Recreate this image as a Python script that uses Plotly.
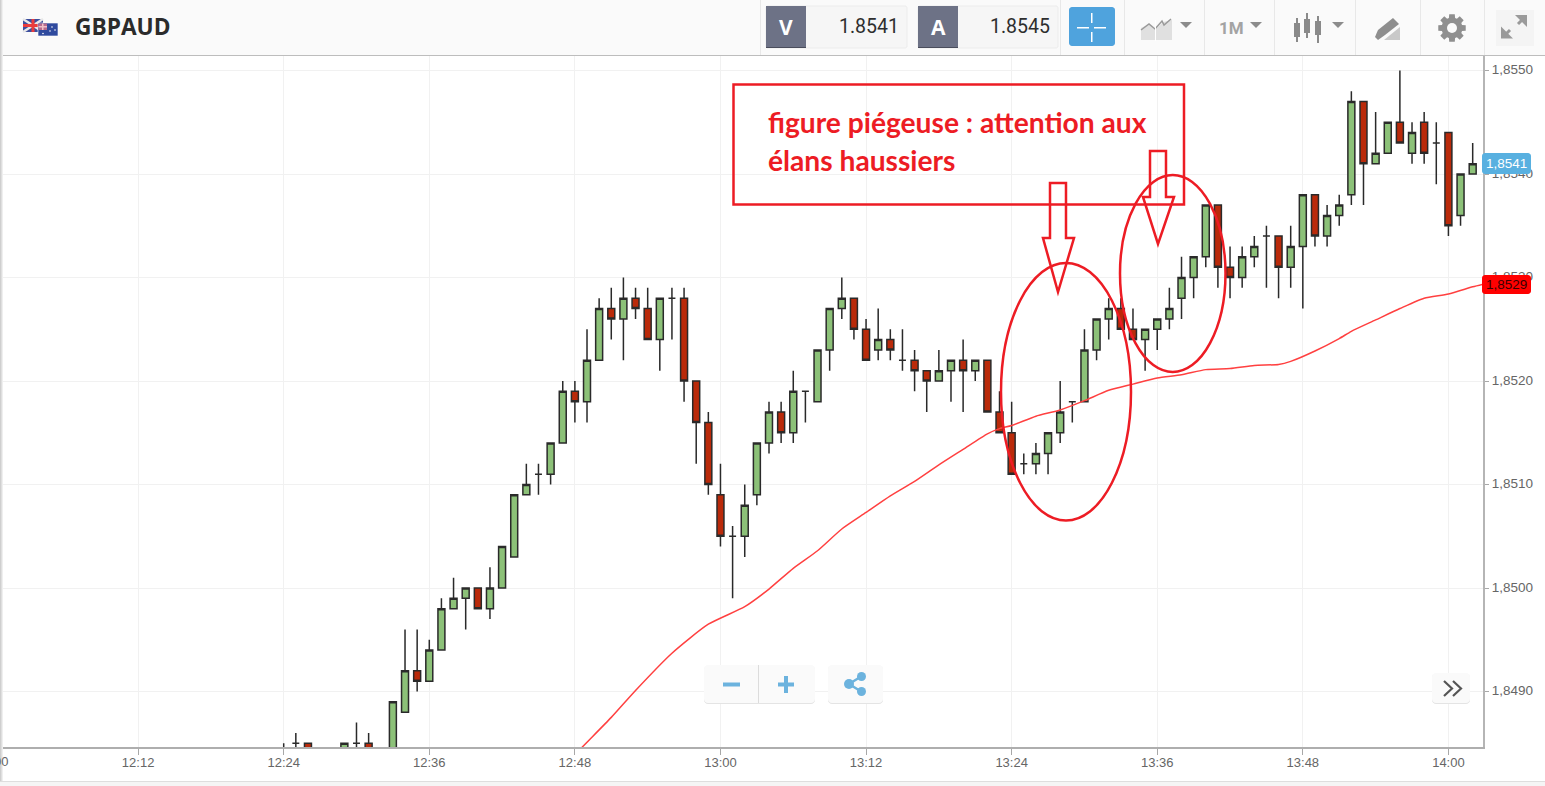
import numpy as np
import plotly.graph_objects as go

DAY = "2018-03-12 "
PAIR = "GBPAUD"
BID_LABEL, ASK_LABEL = "V", "A"
BID, ASK = "1.8541", "1.8545"
NOTE_1 = "figure piégeuse : attention aux"
NOTE_2 = "élans haussiers"

times = ["12:24","12:25","12:26","12:29","12:30","12:31","12:33","12:34","12:35","12:36","12:37","12:38",
 "12:39","12:40","12:41","12:42","12:43","12:44","12:45","12:46","12:47","12:48","12:49","12:50",
 "12:51","12:52","12:53","12:54","12:55","12:56","12:57","12:58","12:59","13:00","13:01","13:02",
 "13:03","13:04","13:05","13:06","13:07","13:08","13:09","13:10","13:11","13:12","13:13","13:14",
 "13:15","13:16","13:17","13:18","13:19","13:20","13:21","13:22","13:23","13:24","13:25","13:26",
 "13:27","13:28","13:29","13:30","13:31","13:32","13:33","13:34","13:35","13:36","13:37","13:38",
 "13:39","13:40","13:41","13:42","13:43","13:44","13:45","13:46","13:47","13:48","13:49","13:50",
 "13:51","13:52","13:53","13:54","13:55","13:56","13:57","13:58","13:59","14:00","14:01","14:02"]
opens = [1.8484,1.8485,1.8485,1.8483,1.8485,1.8485,1.8483,1.8488,1.8492,1.8491,1.8494,1.8498,
 1.8499,1.8500,1.8498,1.8500,1.8503,1.8509,1.8511,1.8511,1.8514,1.8519,1.8518,1.8522,
 1.8527,1.8526,1.8528,1.8527,1.8524,1.8528,1.8528,1.8520,1.8516,1.8509,1.8505,1.8505,
 1.8509,1.8514,1.8517,1.8515,1.8519,1.8518,1.8523,1.8527,1.8528,1.8525,1.8523,1.8524,
 1.8522,1.8522,1.8521,1.8520,1.8521,1.8522,1.8521,1.8522,1.8517,1.8515,1.8512,1.8512,
 1.8513,1.8515,1.8518,1.8518,1.8523,1.8526,1.8527,1.8525,1.8524,1.8525,1.8526,1.8528,
 1.8530,1.8532,1.8537,1.8531,1.8530,1.8532,1.8534,1.8534,1.8531,1.8533,1.8538,1.8534,
 1.8536,1.8538,1.8547,1.8541,1.8542,1.8545,1.8542,1.8545,1.8543,1.8544,1.8536,1.8540]
highs = [1.8485,1.8486,1.8485,1.8485,1.8487,1.8486,1.8489,1.8496,1.8496,1.8495,1.8499,1.8501,
 1.8500,1.8500,1.8502,1.8504,1.8509,1.8512,1.8512,1.8514,1.8520,1.8520,1.8525,1.8528,
 1.8529,1.8530,1.8529,1.8529,1.8528,1.8529,1.8529,1.8520,1.8517,1.8512,1.8506,1.8510,
 1.8514,1.8518,1.8518,1.8521,1.8519,1.8523,1.8527,1.8530,1.8528,1.8526,1.8527,1.8525,
 1.8525,1.8523,1.8521,1.8523,1.8522,1.8524,1.8522,1.8522,1.8519,1.8518,1.8513,1.8514,
 1.8515,1.8520,1.8518,1.8525,1.8526,1.8528,1.8528,1.8527,1.8525,1.8526,1.8529,1.8532,
 1.8532,1.8537,1.8537,1.8533,1.8533,1.8534,1.8535,1.8534,1.8535,1.8538,1.8538,1.8537,
 1.8538,1.8548,1.8547,1.8546,1.8545,1.8550,1.8545,1.8546,1.8545,1.8544,1.8540,1.8543]
lows = [1.8483,1.8484,1.8483,1.8482,1.8484,1.8483,1.8482,1.8488,1.8490,1.8491,1.8494,1.8498,
 1.8496,1.8498,1.8497,1.8500,1.8503,1.8509,1.8509,1.8510,1.8514,1.8516,1.8516,1.8522,
 1.8524,1.8522,1.8526,1.8524,1.8521,1.8524,1.8518,1.8512,1.8509,1.8504,1.8499,1.8503,
 1.8508,1.8513,1.8514,1.8514,1.8516,1.8518,1.8521,1.8526,1.8524,1.8522,1.8522,1.8522,
 1.8521,1.8519,1.8517,1.8520,1.8518,1.8517,1.8520,1.8517,1.8515,1.8511,1.8511,1.8511,
 1.8511,1.8514,1.8516,1.8518,1.8522,1.8524,1.8525,1.8524,1.8521,1.8523,1.8525,1.8526,
 1.8528,1.8531,1.8529,1.8528,1.8529,1.8531,1.8529,1.8528,1.8529,1.8527,1.8533,1.8533,
 1.8535,1.8537,1.8537,1.8541,1.8542,1.8543,1.8541,1.8541,1.8539,1.8534,1.8535,1.8540]
closes = [1.8484,1.8485,1.8484,1.8485,1.8485,1.8484,1.8489,1.8492,1.8491,1.8494,1.8498,1.8499,
 1.8500,1.8498,1.8500,1.8504,1.8509,1.8510,1.8511,1.8514,1.8519,1.8518,1.8522,1.8527,
 1.8526,1.8528,1.8527,1.8524,1.8528,1.8528,1.8520,1.8516,1.8510,1.8505,1.8505,1.8508,
 1.8514,1.8517,1.8515,1.8519,1.8519,1.8523,1.8527,1.8528,1.8525,1.8522,1.8524,1.8523,
 1.8522,1.8521,1.8520,1.8521,1.8522,1.8521,1.8522,1.8517,1.8515,1.8511,1.8512,1.8513,
 1.8515,1.8517,1.8518,1.8523,1.8526,1.8527,1.8525,1.8524,1.8525,1.8526,1.8527,1.8530,
 1.8532,1.8537,1.8531,1.8530,1.8532,1.8533,1.8534,1.8531,1.8533,1.8538,1.8534,1.8536,
 1.8537,1.8547,1.8541,1.8542,1.8545,1.8543,1.8544,1.8542,1.8543,1.8535,1.8540,1.8541]

ma_times = ["12:48","12:49","12:51","12:53","12:56","12:59","13:02","13:04","13:06","13:08","13:10","13:12",
 "13:14","13:16","13:18","13:20","13:22","13:23","13:24","13:26","13:28","13:30","13:32","13:34",
 "13:36","13:38","13:40","13:42","13:44","13:46","13:47","13:49","13:51","13:52","13:54","13:56",
 "13:58","14:00","14:02","14:03"]
ma_values = [1.84839,1.84851,1.84875,1.84901,1.84937,1.84965,1.84982,1.84999,1.85019,1.85036,1.85057,1.85073,
 1.85089,1.85103,1.85119,1.85134,1.85149,1.85154,1.85157,1.85166,1.85172,1.85181,1.85191,1.85197,
 1.85203,1.85206,1.85211,1.85212,1.85215,1.85216,1.85219,1.85229,1.85241,1.85248,1.85259,1.85270,
 1.85280,1.85284,1.85291,1.85294]

x_tick_times = ["12:12","12:24","12:36","12:48","13:00","13:12","13:24","13:36","13:48","14:00"]
y_ticks = [1.8490,1.8500,1.8510,1.8520,1.8530,1.8540,1.8550]
LAST_PRICE = closes[-1]
MA_LAST = "1,8529"

W, H = 1545, 786
L, R, T, B = 0, 1483, 56, 747
def fx(x): return (x - L) / (R - L)
def fy(y): return (B - y) / (B - T)

shapes = []
annotations = []

def rect(x0, y0, x1, y1, fill=None, line=None, lw=1):
    shapes.append(dict(type="rect", xref="paper", yref="paper", x0=fx(x0), x1=fx(x1), y0=fy(y0), y1=fy(y1),
                       fillcolor=fill or "rgba(0,0,0,0)", line=dict(color=line or "rgba(0,0,0,0)", width=lw if line else 0), layer="above"))

def oval(x0, y0, x1, y1, fill=None, line=None, lw=1):
    shapes.append(dict(type="circle", xref="paper", yref="paper", x0=fx(x0), x1=fx(x1), y0=fy(y0), y1=fy(y1),
                       fillcolor=fill or "rgba(0,0,0,0)", line=dict(color=line or "rgba(0,0,0,0)", width=lw if line else 0), layer="above"))

def poly(pts, fill=None, line=None, lw=1, close=True):
    d = "M" + " L".join(f"{fx(a):.5f},{fy(b):.5f}" for a, b in pts) + (" Z" if close else "")
    shapes.append(dict(type="path", xref="paper", yref="paper", path=d,
                       fillcolor=fill or "rgba(0,0,0,0)", line=dict(color=line or "rgba(0,0,0,0)", width=lw if line else 0), layer="above"))

def rrect(x0, y0, x1, y1, r, fill=None, line=None, lw=1):
    pts = []
    for cx, cy, a0 in [(x1-r, y0+r, -90), (x1-r, y1-r, 0), (x0+r, y1-r, 90), (x0+r, y0+r, 180)]:
        for a in np.radians(np.linspace(a0, a0+90, 5)):
            pts.append((cx + r*np.cos(a), cy + r*np.sin(a)))
    poly(pts, fill, line, lw)

def label(x, y, text, size, color, family="Liberation Sans", bold=False, anchor="center"):
    annotations.append(dict(xref="paper", yref="paper", x=fx(x), y=fy(y), text=f"<b>{text}</b>" if bold else text,
                            showarrow=False, xanchor=anchor, yanchor="middle",
                            font=dict(size=size, color=color, family=family), borderpad=0, borderwidth=0))

# ---- header ----
rect(0, 0, W, 55, fill="#fafafa")
rect(0, 55, W, 56, fill="#bdbdbd")
for sx in [760, 1060, 1124, 1204, 1274, 1355, 1420, 1484]:
    rect(sx, 0, sx+1, 55, fill="#e8e8e8")

# flags
rect(23, 19, 43, 32, fill="#3c4f9e")
poly([(23,19),(43,32)], line="#e8e8e8", lw=2.5, close=False)
poly([(43,19),(23,32)], line="#e8e8e8", lw=2.5, close=False)
rect(23, 24, 43, 27, fill="#ea3d3d")
rect(31.5, 19, 34.5, 32, fill="#ea3d3d")
rect(38, 23, 58, 36, fill="#2f4a9e", line="#ffffff", lw=0.6)
rect(38.5, 23.5, 47, 30, fill="#b66a8e")
rect(42, 23.5, 43.5, 30, fill="#f0c0c8")
rect(38.5, 26, 47, 27.5, fill="#f0c0c8")
for a, b in [(52,27),(55,30),(50,31),(43,33.5)]:
    oval(a-.8, b-.8, a+.8, b+.8, fill="#ffffff")
label(75, 26.5, PAIR, 22.7, "#2b2b2b", "Open Sans", True, "left")

# bid / ask
for x0, x1, x2, name, val in [(766, 806, 907, BID_LABEL, BID), (918, 958, 1058, ASK_LABEL, ASK)]:
    rrect(x0, 6, x2, 48, 2, fill="#f6f6f6", line="#ececec")
    rect(x0, 6, x1, 48, fill="#6d7286")
    rect(x0, 47, x1, 48, fill="#4a4d5c")
    label((x0+x1)/2, 27, name, 21, "#ffffff", "Open Sans", True)
    label(x2-8, 26, val, 19.5, "#2e2e2e", "Roboto", False, "right")

# crosshair button
rrect(1069, 7, 1115, 46, 3, fill="#4fa3dd")
for a, b, c, d in [(1077,27,1089,28.5),(1094,27,1106,28.5),(1091,13,1092.5,23),(1091,32,1092.5,42)]:
    rect(a, b, c, d, fill="#ffffff")

# chart type icon
poly([(1141,36),(1141,28),(1149,24),(1155,30),(1163,22),(1172,20),(1172,40),(1141,40)], fill="#e0e0e0")
poly([(1141,30),(1149,24),(1155,29),(1162,21),(1164,25),(1171,19)], line="#9a9a9a", lw=1.5, close=False)
rect(1155, 20, 1156, 41, fill="#ffffff")
for cx in [1186, 1256, 1338]:
    poly([(cx-6,22),(cx+6,22),(cx,28)], fill="#8c8c8c")
label(1231, 28, "1M", 17, "#a3a3a3", "Roboto", True)

# candle icon
for cx, b0, b1, w0, w1 in [(1297,23,37,18,42),(1307,19,33,13,38),(1318,21,35,16,43)]:
    rect(cx-1, w0, cx+1, w1, fill="#8a8a8a")
    rect(cx-3, b0, cx+3, b1, fill="#8a8a8a")

# drawing icon
poly([(1375,37),(1378,30),(1393,18),(1399,24),(1385,35),(1378,40)], fill="#8e8e8e")
poly([(1384,40),(1400,27),(1400,40)], fill="#c9c9c9")

# gear
n = 8
gx, gy = 1452, 28
pts = []
for k in range(n):
    c = 2*np.pi*k/n
    for off, rad in [(-0.30,10.5),(-0.20,14),(0.20,14),(0.30,10.5)]:
        pts.append((gx + rad*np.cos(c+off), gy + rad*np.sin(c+off)))
poly(pts, fill="#8f8f8f")
oval(gx-5, gy-5, gx+5, gy+5, fill="#fafafa")

# expand icon
rect(1496, 10, 1534, 46, fill="#f4f4f4")
poly([(1504,36),(1510,30)], line="#9a9a9a", lw=3, close=False)
poly([(1518,24),(1524,18)], line="#9a9a9a", lw=3, close=False)
poly([(1515,15),(1527,15),(1527,27)], fill="#9a9a9a")
poly([(1501,26.5),(1501,38.5),(1513,38.5)], fill="#9a9a9a")

# left edge shadow and bottom strip
for i, c in enumerate(["#cfcfcf", "#dfdfdf", "#efefef"]):
    rect(i, 0, i+1, 781, fill=c)
rect(0, 781, W, 786, fill="#f5f5f5")
rect(0, 781, W, 782, fill="#dedede")

# ---- hand annotations ----
RED = "#ed1c24"
rect(733.5, 84.5, 1184, 204.5, line=RED, lw=2.5)
poly([(1050,183),(1066,183),(1066,238),(1074,238),(1058,292),(1043,238),(1050,238)], line=RED, lw=2.5)
poly([(1150,151),(1166,151),(1166,197),(1174,197),(1158,244),(1143,197),(1150,197)], line=RED, lw=2.5)
oval(1001, 263, 1131, 520.5, line=RED, lw=2.5)
oval(1120, 175, 1225.5, 372, line=RED, lw=2.5)
label(768, 122, NOTE_1, 28.2, RED, "Lato", True, "left")
label(768, 159.5, NOTE_2, 28.2, RED, "Lato", True, "left")

# ---- price tags ----
rrect(1482, 153, 1531, 174, 3, fill="#58b0e0")
label(1506.5, 163.5, f"{LAST_PRICE:.4f}".replace(".", ","), 13.5, "#ffffff", "Liberation Sans")
rrect(1482, 275, 1531, 294, 3, fill="#ff0000")
label(1506.5, 284.5, MA_LAST, 13.5, "#3a0000", "Liberation Sans")

# ---- floating buttons ----
for x0, x1, y0, y1 in [(704, 815, 665, 703), (828, 883, 665, 703), (1432, 1470, 673, 703)]:
    rrect(x0, y0+1, x1, y1+1, 4, fill="#e4e4e4")
    rrect(x0, y0, x1, y1, 4, fill="#fafafa")
rect(758, 665, 759, 703, fill="#dcdcdc")
BLUE = "#6cb3de"
rect(723, 682.5, 740, 686.5, fill=BLUE)
rect(778, 682.5, 794, 686.5, fill=BLUE)
rect(784, 676, 788, 693, fill=BLUE)
poly([(862,676),(849,684),(862,692)], line=BLUE, lw=2.5, close=False)
oval(844, 679, 854, 689, fill=BLUE)
oval(857, 672, 866, 681, fill=BLUE)
oval(857, 687, 866, 696, fill=BLUE)
poly([(1444,681),(1452,688.5),(1444,696)], line="#555555", lw=2.2, close=False)
poly([(1453,681),(1461,688.5),(1453,696)], line="#555555", lw=2.2, close=False)

# left clipped tick label
annotations.append(dict(xref="paper", yref="paper", x=fx(-7.3), y=fy(761.5), text="12:00", showarrow=False,
                        xanchor="center", yanchor="middle", font=dict(size=13, color="#666666", family="Liberation Sans")))

candle_x = [DAY + t for t in times]
fig = go.Figure()
fig.add_trace(go.Candlestick(
    x=candle_x, open=opens, high=highs, low=lows, close=closes,
    increasing=dict(line=dict(color="#2a2a2a", width=1.5), fillcolor="#8cc178"),
    decreasing=dict(line=dict(color="#2a2a2a", width=1.5), fillcolor="#ba2a0a"),
    whiskerwidth=0, hoverinfo="skip", showlegend=False))
fig.add_trace(go.Scatter(x=[DAY + t for t in ma_times], y=ma_values, mode="lines",
                         line=dict(color="#ff4040", width=1.5, shape="spline", smoothing=0.6),
                         hoverinfo="skip", showlegend=False))

# x span: 14:00 sits at pixel 1448.3 with 12.13 px per minute
x_start = np.datetime64(DAY.strip() + "T14:00") - np.timedelta64(int(1448.3/12.13*60), "s")
x_end = np.datetime64(DAY.strip() + "T14:00") + np.timedelta64(int((1483-1448.3)/12.13*60), "s")

fig.update_layout(
    width=W, height=H, margin=dict(l=L, r=W-R, t=T, b=H-B, pad=0), paper_bgcolor="#ffffff", plot_bgcolor="#ffffff",
    separators=",.", boxgap=0.18, showlegend=False, shapes=shapes, annotations=annotations,
    font=dict(family="Liberation Sans", size=13, color="#666666"),
    xaxis=dict(type="date", range=[str(x_start), str(x_end)], rangeslider=dict(visible=False),
               tickvals=[DAY + t for t in x_tick_times], tickformat="%H:%M",
               showgrid=True, gridcolor="#f1f1f1", gridwidth=1, zeroline=False,
               showline=True, linecolor="#aeaeae", linewidth=2, ticks="outside", ticklen=6, tickcolor="#a8a8a8",
               ticklabelstandoff=-4,
               tickfont=dict(size=13, color="#666666", family="Liberation Sans")),
    yaxis=dict(side="right", range=[1.8550-(B-70.5)/103500, 1.8550+(70.5-T)/103500], tickvals=y_ticks, tickformat=".4f",
               showgrid=True, gridcolor="#f1f1f1", gridwidth=1, zeroline=False,
               showline=True, linecolor="#b5b5b5", linewidth=2, ticks="outside", ticklen=4, tickcolor="#a8a8a8",
               ticklabelshift=-1,
               tickfont=dict(size=13.5, color="#666666", family="Liberation Sans")),
)
fig.write_html("out.html", config=dict(displayModeBar=False),
               post_script="document.body.style.margin='0';document.documentElement.style.overflow='hidden';")
